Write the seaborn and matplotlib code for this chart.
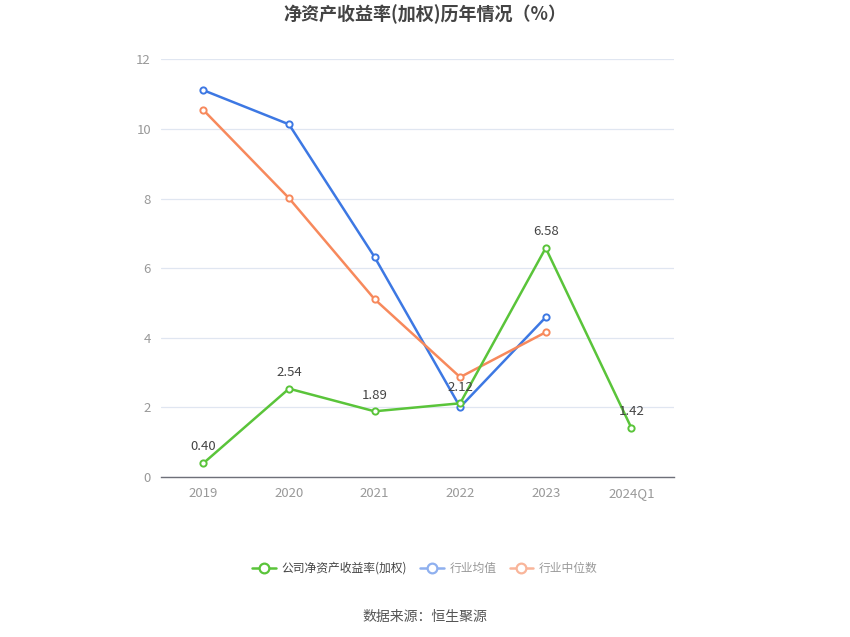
import numpy as np
import pandas as pd
import seaborn as sns
import matplotlib.pyplot as plt
from matplotlib.lines import Line2D

# 数据
years = ["2019", "2020", "2021", "2022", "2023", "2024Q1"]
roe_company = [0.40, 2.54, 1.89, 2.12, 6.58, 1.42]
roe_avg = [11.11, 10.13, 6.32, 2.01, 4.59, np.nan]
roe_median = [10.54, 8.01, 5.11, 2.87, 4.16, np.nan]

series_names = ["公司净资产收益率(加权)", "行业均值", "行业中位数"]
colors = ["#5ac43a", "#3d78e3", "#f7895c"]
legend_colors = ["#5ac43a", "#8fb0ef", "#f9b59a"]

sns.set_theme(style="white")
plt.rcParams["font.family"] = ["Noto Sans CJK SC", "DejaVu Sans"]

fig = plt.figure(figsize=(8.5, 6.37), dpi=100)
ax = fig.add_axes([0.189, 0.251, 0.604, 0.656])

pos = np.arange(len(years))
df = pd.DataFrame({"pos": pos, "公司": roe_company, "均值": roe_avg, "中位数": roe_median})

# 先画行业，再画公司线
for col, c in [("均值", colors[1]), ("中位数", colors[2]), ("公司", colors[0])]:
    sns.lineplot(data=df, x="pos", y=col, ax=ax, color=c, linewidth=1.8,
                 marker="o", markersize=4.5, markerfacecolor="white",
                 markeredgecolor=c, markeredgewidth=1.4, zorder=3)

for x, v in zip(pos, roe_company):
    ax.annotate(f"{v:.2f}", (x, v), xytext=(0, 7), textcoords="offset points",
                ha="center", va="bottom", fontsize=9.5, color="#444444", zorder=5)

ax.set_xlim(-0.5, len(years) - 0.5)
ax.set_ylim(0, 12)
ax.set_yticks([0, 2, 4, 6, 8, 10, 12])
ax.set_xticks(pos)
ax.set_xticklabels(years)
ax.set_xlabel("")
ax.set_ylabel("")

ax.grid(axis="y", color="#e0e6f1", linewidth=0.9)
ax.grid(axis="x", visible=False)
for s in ["top", "right", "left"]:
    ax.spines[s].set_visible(False)
ax.spines["bottom"].set_color("#6e7079")
ax.spines["bottom"].set_linewidth(1.0)
ax.tick_params(axis="x", colors="#999999", labelsize=9.5, length=4, width=0.9,
               direction="out", pad=3)
ax.tick_params(axis="x", color="#6e7079")
ax.tick_params(axis="y", colors="#999999", labelsize=9.5, length=0, pad=7)

fig.suptitle("净资产收益率(加权)历年情况（%）", y=0.993, fontsize=13,
             fontweight="bold", color="#444444")

handles = [Line2D([0], [0], color=c, linewidth=1.8, marker="o", markersize=7,
                  markerfacecolor="white", markeredgecolor=c, markeredgewidth=1.6)
           for c in legend_colors]
leg = fig.legend(handles, series_names, loc="center", bbox_to_anchor=(0.5, 0.108),
                 ncol=3, frameon=False, fontsize=8.5, handlelength=2.0,
                 columnspacing=1.1, handletextpad=0.5)
for t, tc in zip(leg.get_texts(), ["#444444", "#999999", "#999999"]):
    t.set_color(tc)

fig.text(0.5, 0.031, "数据来源：恒生聚源", ha="center", va="center",
         fontsize=10, color="#555555")

fig.savefig("out.png", dpi=100)
